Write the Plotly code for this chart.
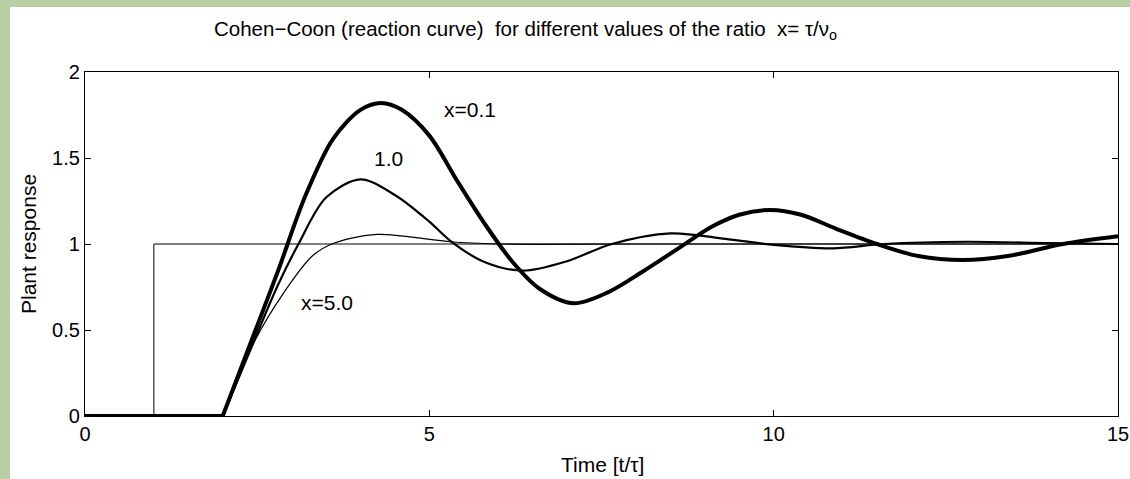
import plotly.graph_objects as go

# ---- data ----
step_t = [0, 1, 1, 15]
step_v = [0, 0, 1, 1]

flat_t = [0, 2]
flat_v = [0, 0]

x01_t = [2.0, 2.4, 2.8, 3.2, 3.6, 4.0, 4.3, 4.6, 5.0, 5.4, 5.8, 6.2, 6.6, 7.1, 7.6, 8.1, 8.6, 9.1, 9.5, 9.95, 10.4, 10.9, 11.5, 12.1, 12.75, 13.4, 14.2, 15.0]
x01_v = [0.0, 0.42, 0.84, 1.28, 1.61, 1.78, 1.82, 1.78, 1.63, 1.37, 1.12, 0.90, 0.74, 0.655, 0.72, 0.84, 0.97, 1.10, 1.17, 1.198, 1.17, 1.09, 1.0, 0.93, 0.907, 0.93, 1.0, 1.045]

x10_t = [2.0, 2.47, 2.8, 3.1, 3.5, 4.0, 4.5, 5.0, 5.3, 5.8, 6.36, 7.0, 7.65, 8.5, 9.3, 10.0, 10.86, 11.6, 12.8, 14.0, 15.0]
x10_v = [0.0, 0.45, 0.76, 1.0, 1.27, 1.376, 1.285, 1.13, 1.02, 0.895, 0.845, 0.90, 1.0, 1.062, 1.03, 0.995, 0.975, 1.0, 1.013, 1.005, 1.0]

x50_t = [2.0, 2.47, 2.88, 3.3, 3.61, 4.24, 5.01, 5.3, 6.0, 8.0, 11.0, 15.0]
x50_v = [0.0, 0.44, 0.713, 0.93, 1.004, 1.056, 1.027, 1.013, 1.0, 1.0, 1.0, 1.0]

labels = ["x=0.1", "1.0", "x=5.0"]
label_t = [5.59, 4.40, 3.52]
label_v = [1.78, 1.50, 0.66]

xticks = [0, 5, 10, 15]
yticks = [0, 0.5, 1, 1.5, 2]

FONT = "Liberation Sans, Arial, Helvetica, sans-serif"
GREEN = "#b7cfa3"

L, R, T, B = 85, 12, 72, 63
W, H = 1130, 479
PW = W - L - R   # plot width in pixels
PH = H - T - B   # plot height in pixels

fig = go.Figure()
fig.add_trace(go.Scatter(x=step_t, y=step_v, mode="lines",
                         line=dict(color="black", width=1)))
fig.add_trace(go.Scatter(x=flat_t, y=flat_v, mode="lines",
                         line=dict(color="black", width=4)))
fig.add_trace(go.Scatter(x=x50_t, y=x50_v, mode="lines",
                         line=dict(color="black", width=1.2, shape="spline", smoothing=0.9)))
fig.add_trace(go.Scatter(x=x10_t, y=x10_v, mode="lines",
                         line=dict(color="black", width=2.2, shape="spline", smoothing=0.9)))
fig.add_trace(go.Scatter(x=x01_t, y=x01_v, mode="lines",
                         line=dict(color="black", width=4, shape="spline", smoothing=0.9)))

for txt, t, v in zip(labels, label_t, label_v):
    fig.add_annotation(x=t, y=v, text=txt, showarrow=False,
                       font=dict(family=FONT, size=21, color="black"))

# white panel over the green background
fig.add_shape(type="rect", xref="paper", yref="paper",
              x0=(10 - L) / PW, x1=(1160 - L) / PW,
              y0=(416 - 485) / PH, y1=(416 - 7) / PH,
              fillcolor="white", line=dict(width=0), layer="below")

# title and axis titles
fig.add_annotation(xref="paper", yref="paper", x=(212 - L) / PW, y=(416 - 30) / PH,
                   xanchor="left", yanchor="middle", showarrow=False,
                   text="Cohen\u2212Coon (reaction curve)  for different values of the ratio  x= \u03c4/\u03bd<sub>o</sub>",
                   font=dict(family=FONT, size=20.5, color="black"))
fig.add_annotation(xref="paper", yref="paper", x=(602 - L) / PW, y=(416 - 464) / PH,
                   xanchor="center", yanchor="middle", showarrow=False,
                   text="Time [t/\u03c4]", font=dict(family=FONT, size=21, color="black"))
fig.add_annotation(xref="paper", yref="paper", x=(28 - L) / PW, y=0.5,
                   xanchor="center", yanchor="middle", showarrow=False, textangle=-90,
                   text="Plant response", font=dict(family=FONT, size=21, color="black"))

axis_common = dict(showline=True, linecolor="black", linewidth=1.2, mirror="ticks",
                   ticks="inside", ticklen=6, tickcolor="black", tickwidth=1,
                   showgrid=False, zeroline=False, automargin=False,
                   tickfont=dict(family=FONT, size=20, color="black"))

fig.update_layout(
    width=W, height=H, autosize=False,
    margin=dict(l=L, r=R, t=T, b=B, autoexpand=False),
    paper_bgcolor=GREEN, plot_bgcolor="white",
    showlegend=False,
    xaxis=dict(range=[0, 15], tickvals=xticks, **axis_common),
    yaxis=dict(range=[0, 2], tickvals=yticks, **axis_common),
)

fig.write_html(
    "out.html",
    config={"displayModeBar": False, "responsive": False},
    post_script=(
        "document.documentElement.style.overflow='hidden';"
        "document.body.style.overflow='hidden';"
        "document.body.style.margin='0';"
        "document.body.style.background='white';"
    ),
)
